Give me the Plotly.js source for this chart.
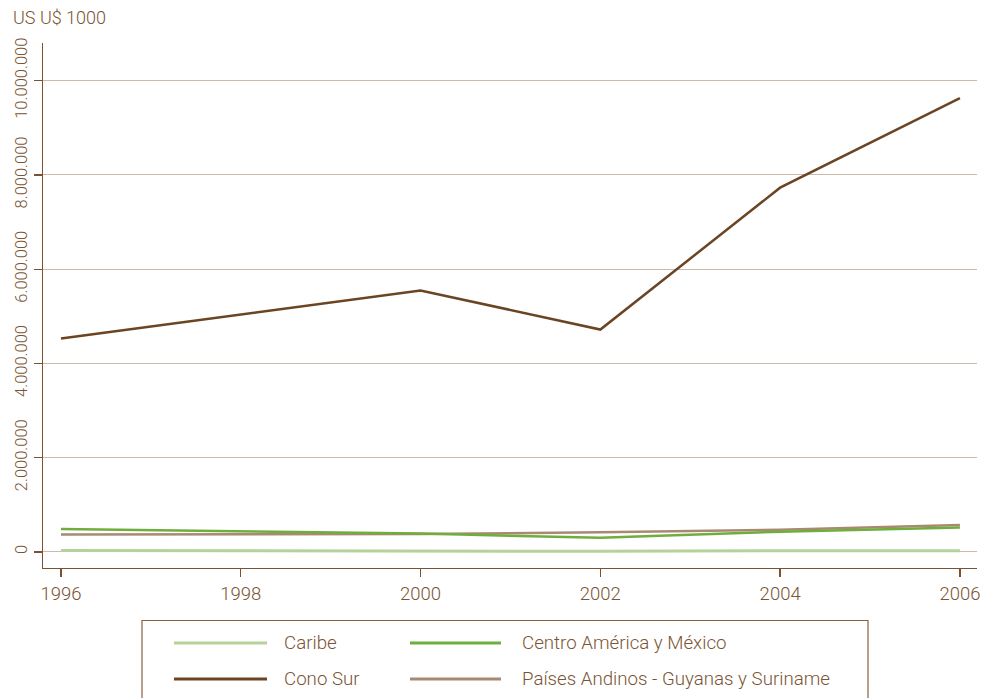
<!DOCTYPE html>
<html>
<head>
<meta charset="utf-8">
<script src="https://cdn.plot.ly/plotly-3.0.1.min.js"></script>
<style>
html,body{margin:0;padding:0;background:#fff;}
#chart{width:985px;height:698px;}
</style>
</head>
<body>
<div id="chart"></div>
<script>
// ---- data ----
const years = [1996, 2000, 2002, 2004, 2006];
const caribe = [30000, 10000, 15000, 25000, 25000];
const centroAmerica = [490000, 390000, 300000, 430000, 520000];
const conoSur = [4530000, 5550000, 4720000, 7730000, 9630000];
const paisesAndinos = [370000, 380000, 420000, 470000, 570000];
const seriesNames = ["Caribe", "Centro América y México", "Cono Sur", "Países Andinos - Guyanas y Suriname"];
const xTicks = [1996, 1998, 2000, 2002, 2004, 2006];
const yTicks = [0, 2000000, 4000000, 6000000, 8000000, 10000000];
const yTickText = ["0", "2.000.000", "4.000.000", "6.000.000", "8.000.000", "10.000.000"];

// ---- style ----
const colors = ["#b6d29c", "#6fae3c", "#6b4423", "#a88a72"];
const W = 985, H = 698;
const M = {l: 43, r: 8, t: 43, b: 130};
const PW = W - M.l - M.r, PH = H - M.t - M.b;
const px2x = px => (px - M.l) / PW;
const py2y = py => (H - M.b - py) / PH;
const textColor = "#7a5434";
const font = "Roboto, 'Liberation Sans', Arial, sans-serif";
const fw = 300;

const allSeries = [caribe, centroAmerica, conoSur, paisesAndinos];
const drawOrder = [0, 3, 1, 2];
const traces = drawOrder.map(i => ({
  x: years, y: allSeries[i], name: seriesNames[i], type: "scatter", mode: "lines",
  line: {color: colors[i], width: i === 0 ? 3 : 2.5},
  showlegend: false, hoverinfo: "x+y+name"
}));

// custom legend
const shapes = [];
const annotations = [];
shapes.push({type: "rect", xref: "paper", yref: "paper",
  x0: px2x(142), x1: px2x(868), y0: py2y(620.5), y1: py2y(705),
  line: {color: "#8a6040", width: 1.2}, fillcolor: "rgba(0,0,0,0)"});
const legendPos = [
  {lx0: 174, lx1: 267, tx: 282, y: 643},
  {lx0: 410, lx1: 501, tx: 520, y: 643},
  {lx0: 174, lx1: 267, tx: 282, y: 679},
  {lx0: 410, lx1: 501, tx: 520, y: 679}
];
seriesNames.forEach((n, i) => {
  const p = legendPos[i];
  shapes.push({type: "line", xref: "paper", yref: "paper",
    x0: px2x(p.lx0), x1: px2x(p.lx1), y0: py2y(p.y), y1: py2y(p.y),
    line: {color: colors[i], width: 3}});
  annotations.push({xref: "paper", yref: "paper", x: px2x(p.tx), y: py2y(p.y),
    xanchor: "left", yanchor: "middle", showarrow: false, text: n,
    font: {family: font, size: 18.7, weight: fw, color: textColor}});
});
annotations.push({xref: "paper", yref: "paper", x: px2x(11), y: py2y(17),
  xanchor: "left", yanchor: "middle", showarrow: false, text: "US U$ 1000",
  font: {family: font, size: 18, weight: fw, color: textColor}});

const layout = {
  width: W, height: H,
  margin: M,
  paper_bgcolor: "#fff", plot_bgcolor: "#fff",
  font: {family: font, color: textColor, size: 15},
  xaxis: {
    range: [1995.8, 2006.19], tickvals: xTicks, ticktext: xTicks.map(String),
    showgrid: false, zeroline: false, showline: true, linecolor: "#7a5232", linewidth: 1.3,
    ticks: "outside", ticklen: 8, tickcolor: "#7a5232", tickwidth: 1.3,
    tickfont: {family: font, size: 18.5, weight: fw, color: textColor}
  },
  yaxis: {
    range: [-340000, 10800000], tickvals: yTicks, ticktext: yTickText,
    tickangle: -90, showgrid: true, gridcolor: "#c9baab", gridwidth: 1,
    zeroline: false, showline: true, linecolor: "#7a5232", linewidth: 1.3,
    ticks: "outside", ticklen: 8, tickcolor: "#7a5232", tickwidth: 1.3,
    tickfont: {family: font, size: 16.5, weight: fw, color: textColor}
  },
  shapes: shapes,
  annotations: annotations
};

Plotly.newPlot("chart", traces, layout, {displayModeBar: false, staticPlot: true});
</script>
</body>
</html>
